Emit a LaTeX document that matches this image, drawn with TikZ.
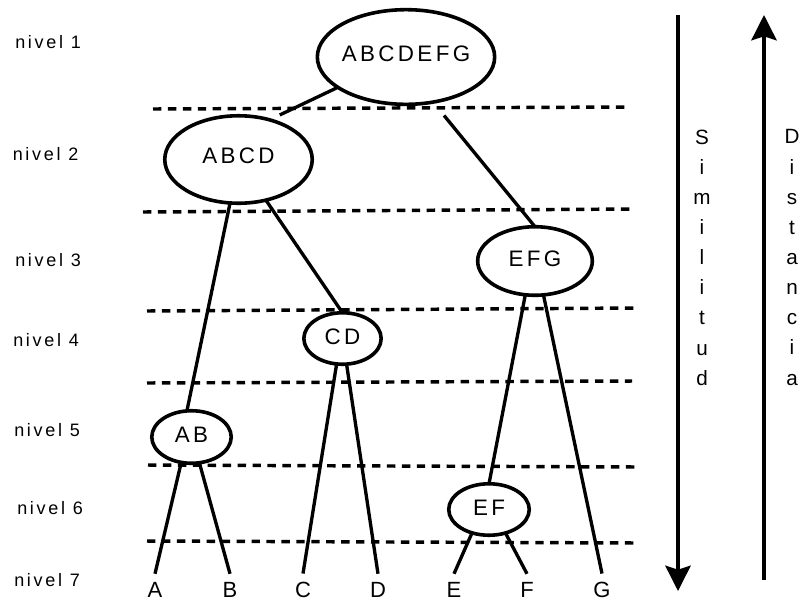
\documentclass[tikz,border=0pt]{standalone}
\usepackage{fontspec}
\setmainfont{Liberation Sans}
\newfontfamily\lsfont[LetterSpace=15]{Liberation Sans}
\usetikzlibrary{shapes.geometric,arrows.meta}
\newcommand\ztext[1]{\makebox[0pt]{#1}}
\begin{document}
\begin{tikzpicture}[x=0.75pt,y=-0.75pt,
  cluster/.style={draw, ellipse, line width=2.7pt, inner sep=0pt, outer sep=0pt,
    text depth=3pt, font=\lsfont\fontsize{16.8}{19}\selectfont},
  conn/.style={line width=2.5pt},
  dashline/.style={line width=2.6pt, dash pattern=on 6.3pt off 4.9pt},
  leaf/.style={inner sep=0pt, outer xsep=0pt, outer ysep=6.5pt, font=\fontsize{16.5}{19}\selectfont},
  levellabel/.style={anchor=west, inner sep=0pt, font=\lsfont\fontsize{13.5}{16}\selectfont},
  vtext/.style={align=center, inner sep=0pt, font=\fontsize{15.5}{22.6}\selectfont},
  arrowline/.style={line width=2.5pt, -{Stealth[length=19pt,width=19pt,inset=3pt]}}
]
\useasboundingbox (0,0) rectangle (803,601);

% level labels
\node[levellabel] (n1) at (15,42) {nivel 1};
\node[levellabel] (n2) at (12.5,154) {nivel 2};
\node[levellabel] (n3) at (15,260.5) {nivel 3};
\node[levellabel] (n4) at (13,340) {nivel 4};
\node[levellabel] (n5) at (14,430.5) {nivel 5};
\node[levellabel] (n6) at (17,508.5) {nivel 6};
\node[levellabel] (n7) at (14,580) {nivel 7};

% dashed level separators
\draw[dashline] (153,109) -- (630,107);
\draw[dashline] (143,212) -- (635,209);
\draw[dashline] (147,311) -- (637,308);
\draw[dashline] (147,383) -- (632,381);
\draw[dashline] (148,465) -- (638,467);
\draw[dashline] (147,541) -- (638,543);

% clusters
\node[cluster, minimum width=133pt, minimum height=71pt, text depth=5pt] (abcdefg) at (406,57) {\ztext{ABCDEFG}};
\node[cluster, minimum width=110.6pt, minimum height=65.6pt, text depth=5pt] (abcd) at (238.5,159.5) {\ztext{ABCD}};
\node[cluster, minimum width=86pt, minimum height=51.4pt] (efg) at (535,261) {\ztext{EFG}};
\node[cluster, minimum width=58pt, minimum height=38.6pt] (cd) at (342.5,338.5) {\ztext{CD}};
\node[cluster, minimum width=59.6pt, minimum height=39.4pt] (ab) at (191.5,437) {\ztext{AB}};
\node[cluster, minimum width=60.4pt, minimum height=38.6pt] (ef) at (489,509.5) {\ztext{EF}};

% leaves
\node[leaf] (A) at (155,590) {A};
\node[leaf] (B) at (230,590) {B};
\node[leaf] (C) at (303,590) {C};
\node[leaf] (D) at (378,590) {D};
\node[leaf] (E) at (454,590) {E};
\node[leaf] (F) at (527,590) {F};
\node[leaf] (G) at (602,590) {G};

% tree connectors
\draw[conn, shorten >=8.5pt] (abcdefg.204) -- (abcd.52);
\draw[conn, shorten <=13pt] (abcdefg.301) -- (efg.90);
\draw[conn] (abcd.259) -- (ab.100);
\draw[conn] (abcd.304) -- (cd.90);
\draw[conn] (efg.254) -- (ef.90);
\draw[conn] (efg.284) -- (G.north);
\draw[conn] (cd.257) -- (C.north);
\draw[conn] (cd.279) -- (D.north);
\draw[conn] (ab.248) -- (A.north);
\draw[conn] (ab.287) -- (B.north);
\draw[conn] (ef.234) -- (E.north);
\draw[conn] (ef.305) -- (F.north);

% side arrows and texts
\coordinate (simtop) at (678,15);
\coordinate (simbot) at (678,591);
\draw[arrowline] (simtop) -- (simbot);
\coordinate (disbot) at (764,580);
\coordinate (distop) at (764,15);
\draw[arrowline] (disbot) -- (distop);

\node[vtext] (sim) at (702,257.5) {S\\i\\m\\i\\l\\i\\t\\u\\d};
\node[vtext] (dist) at (792,257.5) {D\\i\\s\\t\\a\\n\\c\\i\\a};
\end{tikzpicture}
\end{document}
